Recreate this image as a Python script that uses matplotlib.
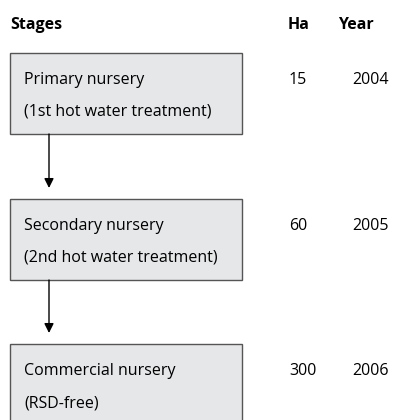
import matplotlib.pyplot as plt
from matplotlib.patches import Rectangle

# data
stages = ["Primary nursery", "Secondary nursery", "Commercial nursery"]
notes = ["(1st hot water treatment)", "(2nd hot water treatment)", "(RSD-free)"]
hectares = [15, 60, 300]
years = [2004, 2005, 2006]

plt.rcParams['font.family'] = ['Open Sans', 'DejaVu Sans']

fig = plt.figure(figsize=(4.03, 4.2), dpi=100)
ax = fig.add_axes([0, 0, 1, 1])
ax.set_xlim(0, 403)
ax.set_ylim(420, 0)
ax.axis("off")

fs = 11.5
# headers
ax.text(10, 25, "Stages", fontsize=fs, fontweight="bold", va="center")
ax.text(288, 25, "Ha", fontsize=fs, fontweight="bold", va="center")
ax.text(338, 25, "Year", fontsize=fs, fontweight="bold", va="center")

box_top = [53, 199, 344]
box_h = 81
for i in range(len(stages)):
    top = box_top[i]
    ax.add_patch(Rectangle((10, top), 232, box_h, facecolor="#e6e7e8",
                           edgecolor="#555555", lw=1))
    ax.text(24, top + 27, stages[i], fontsize=fs, va="center")
    ax.text(24, top + 59, notes[i], fontsize=fs, va="center")
    ax.text(289, top + 27, str(hectares[i]), fontsize=fs, va="center")
    ax.text(352, top + 27, str(years[i]), fontsize=fs, va="center")
    # arrow to the next stage
    if i < len(stages) - 1:
        ax.annotate("", xy=(49, box_top[i + 1] - 11), xytext=(49, top + box_h),
                    arrowprops=dict(arrowstyle="-|>", color="black", lw=1,
                                    mutation_scale=14, shrinkA=0, shrinkB=0))

fig.savefig("out.png", dpi=100)
